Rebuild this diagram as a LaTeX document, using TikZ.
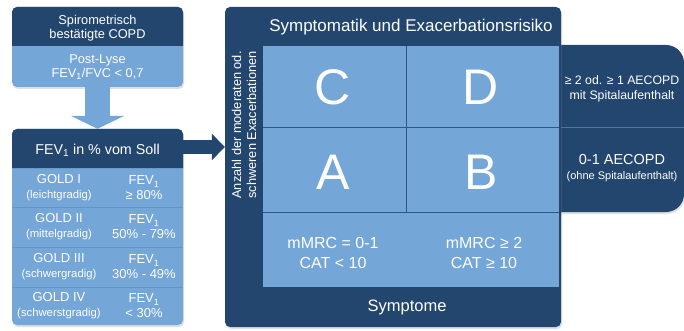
\documentclass[tikz,border=0pt]{standalone}
\usepackage{fontspec}
\setmainfont{Liberation Sans}
\usetikzlibrary{positioning, arrows.meta, shadows}

\definecolor{copddark}{HTML}{23466F}
\definecolor{copdlight}{HTML}{74A6D8}
\definecolor{copdgrid}{HTML}{2D5886}
\definecolor{copdrow}{HTML}{6494C6}
\definecolor{copdtab}{HTML}{4A78A8}

\tikzset{
    panel/.style={rounded corners=5pt, drop shadow={opacity=.25, shadow xshift=1pt, shadow yshift=-2pt}},
    wtxt/.style={text=white, align=center, inner sep=0pt},
    fatdown/.style={copdlight, line width=25pt, -{Triangle[length=13pt, width=53pt]}},
    fatright/.style={copddark, line width=14pt, -{Triangle[length=13pt, width=26pt]}},
    gridline/.style={copdgrid, line width=1pt},
}
\newcommand{\fsz}[2]{\fontsize{#1}{#2}\selectfont}

\begin{document}
\begin{tikzpicture}[x=1pt, y=-1pt]
    \useasboundingbox (0,0) rectangle (684,331);

    % left column
    \node[panel, fill=copdlight, minimum width=171pt, minimum height=80pt] (spirobox) at (97.5,47) {};
    \fill[copddark, rounded corners=5pt] (12,46) -- (12,7) -- (183,7) -- (183,46);
    \node[wtxt, font=\fsz{12.8}{14}] (spiro) at (97.5,28) {Spirometrisch\\bestätigte COPD};
    \node[wtxt, font=\fsz{12.8}{14}] (lyse) at (97.5,67) {Post-Lyse\\FEV\textsubscript{1}/FVC < 0,7};

    \node[panel, fill=copdlight, minimum width=171pt, minimum height=196pt] (fevbox) at (97.5,227) {};
    \fill[copddark, rounded corners=5pt] (12,168) -- (12,129) -- (183,129) -- (183,168);
    \node[wtxt, font=\fsz{14.3}{17}] (fevhead) at (97.5,150) {FEV\textsubscript{1} in \% vom Soll};
    \draw[copdrow, line width=1pt] (12,207) -- (183,207);
    \draw[copdrow, line width=1pt] (12,247) -- (183,247);
    \draw[copdrow, line width=1pt] (12,287) -- (183,287);

    \node[wtxt, font=\fsz{13}{15}] (gold1) at (59,188) {GOLD I\\{\fsz{11.3}{15}(leichtgradig)}};
    \node[wtxt, font=\fsz{13}{15}] (fev1) at (144,188) {FEV\textsubscript{1}\\≥ 80\%};
    \node[wtxt, font=\fsz{13}{15}] (gold2) at (59,227) {GOLD II\\{\fsz{11.3}{15}(mittelgradig)}};
    \node[wtxt, font=\fsz{13}{15}] (fev2) at (144,227) {FEV\textsubscript{1}\\50\% - 79\%};
    \node[wtxt, font=\fsz{13}{15}] (gold3) at (59,267) {GOLD III\\{\fsz{11.3}{15}(schwergradig)}};
    \node[wtxt, font=\fsz{13}{15}] (fev3) at (144,267) {FEV\textsubscript{1}\\30\% - 49\%};
    \node[wtxt, font=\fsz{13}{15}] (gold4) at (59,306) {GOLD IV\\{\fsz{11.3}{15}(schwerstgradig)}};
    \node[wtxt, font=\fsz{13}{15}] (fev4) at (144,306) {FEV\textsubscript{1}\\< 30\%};

    % right side
    \node[panel, fill=copddark, rounded corners=18pt, minimum width=184pt, minimum height=167pt] (tab) at (592,128.5) {};
    \node[panel, fill=copddark, minimum width=336pt, minimum height=320pt] (bigbox) at (393,167) {};
    \fill[copdlight] (263,46) rectangle (559,287);
    \draw[gridline] (406,46) -- (406,212);
    \draw[gridline] (263,128) -- (559,128);
    \draw[gridline] (263,212) -- (559,212);
    \draw[copdtab, line width=1pt] (561,128) -- (684,128);

    \node[wtxt, font=\fsz{17}{20}] (title) at (411,27) {Symptomatik und Exacerbationsrisiko};
    \node[wtxt, font=\fsz{16.5}{20}] (sympt) at (407,307) {Symptome};
    \node[wtxt, font=\fsz{12.8}{15}, rotate=90] (exa) at (244,125) {Anzahl der moderaten od.\\schweren Exacerbationen};

    \node[wtxt, font=\fsz{50}{50}] (C) at (333,87) {C};
    \node[wtxt, font=\fsz{50}{50}] (D) at (481,87) {D};
    \node[wtxt, font=\fsz{50}{50}] (A) at (333,172) {A};
    \node[wtxt, font=\fsz{50}{50}] (B) at (481,172) {B};
    \node[wtxt, font=\fsz{16}{20}] (mmrc1) at (333,253) {mMRC = 0-1\\CAT < 10};
    \node[wtxt, font=\fsz{16}{20}] (mmrc2) at (484,253) {mMRC ≥ 2\\CAT ≥ 10};

    \node[wtxt, font=\fsz{12.3}{15}] (hirisk) at (622,89) {≥ 2 od. ≥ 1 AECOPD\\mit Spitalaufenthalt};
    \node[wtxt, font=\fsz{14.5}{15}] (lorisk) at (622,168) {0-1 AECOPD\\{\fsz{11}{15}(ohne Spitalaufenthalt)}};

    % arrows
    \draw[fatdown] (spirobox.south) -- (fevbox.north);
    \draw[fatright] (fevbox.east |- 0,147) -- (bigbox.west |- 0,147);
\end{tikzpicture}
\end{document}
